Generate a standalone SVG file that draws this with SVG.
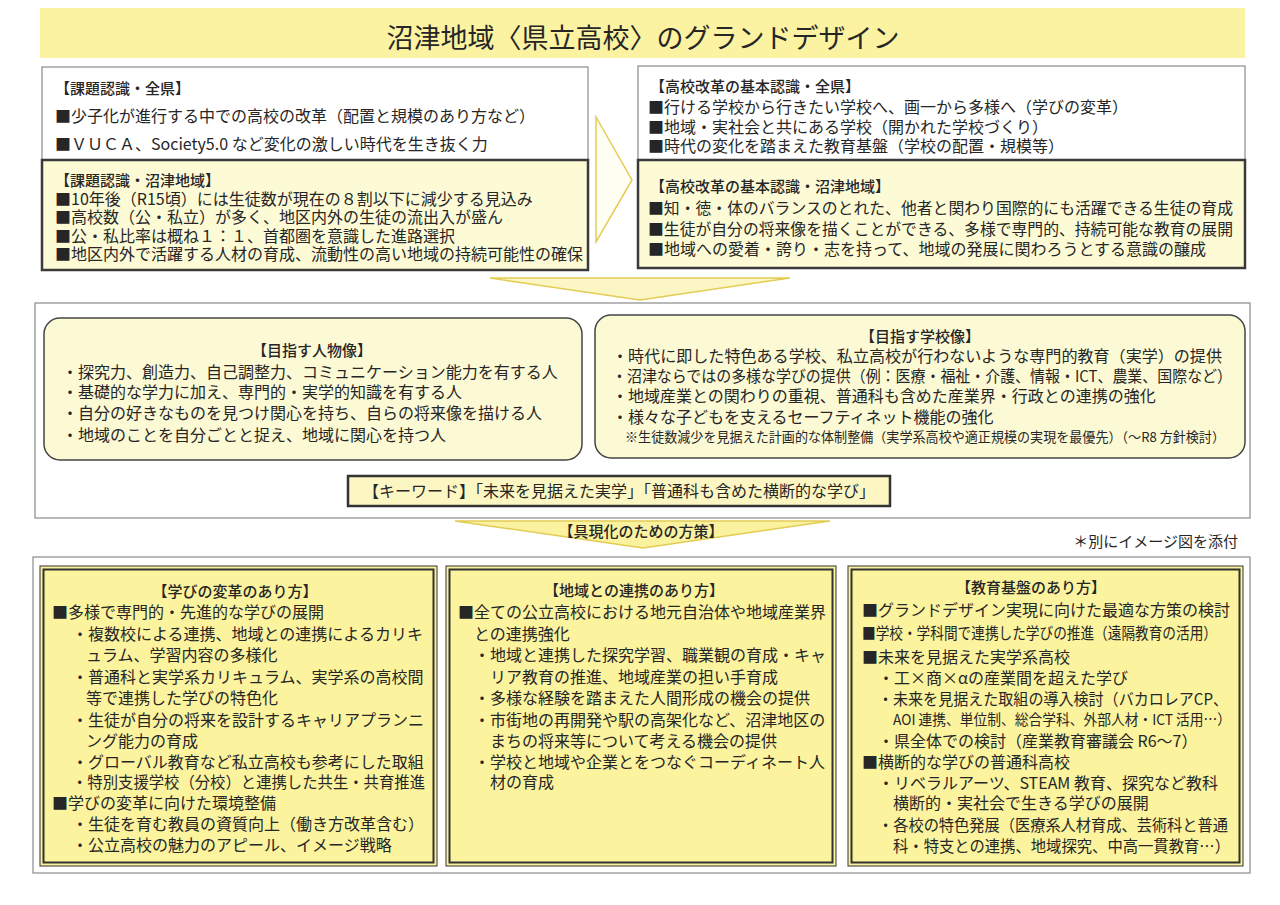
<svg xmlns="http://www.w3.org/2000/svg" width="1280" height="905" viewBox="0 0 1280 905">
<style>
text{font-family:"Noto Sans CJK JP","Noto Sans",sans-serif;fill:#262626;}
.f16{font-size:16px}
.f15{font-size:15px}
.f14{font-size:13.5px}
.h{font-weight:500}
.m{text-anchor:middle}
.wbox{fill:#fff;stroke:#8a8a8a;stroke-width:1.2}
.ybox{fill:#fdfbd6;stroke:#3a3a3a;stroke-width:2.5}
.rbox{fill:#fcf9d5;stroke:#444;stroke-width:1.5}
.dbo{fill:#fbf39e;stroke:#333;stroke-width:1}
.dbi{fill:none;stroke:#333;stroke-width:2}
.arr{fill:#fcf6c4;stroke:#e3cc55;stroke-width:1.5}
</style>
<rect width="1280" height="905" fill="#fff"/>
<g id="title">
<rect x="40" y="8" width="1205" height="50" fill="#fbf3a2"/>
<text x="643" y="48" class="m" style="font-size:27px">沼津地域〈県立高校〉のグランドデザイン</text>
</g>
<g id="connectors">
<polygon class="arr" points="596,117 632,180 596,242" style="fill:#fffef2"/>
<polygon class="arr" points="490,278 790,278 640,300"/>
<polygon class="arr" points="397,457 437,457 417,477"/>
<polygon class="arr" points="775,456 815,456 795,475"/>
<polygon class="arr" points="455,521 830,521 643,548" style="fill:#fbf2a0"/>
<text x="641" y="537" class="f15 h m">【具現化のための方策】</text>
</g>
<g id="kadai-zenken">
<rect class="wbox" x="42" y="67" width="546" height="93"/>
<text x="55" y="94" class="f15 h">【課題認識・全県】</text>
<text x="55" y="122" class="f16">■少子化が進行する中での高校の改革（配置と規模のあり方など）</text>
<text x="55" y="150" class="f16">■ＶＵＣＡ、Society5.0 など変化の激しい時代を生き抜く力</text>
</g>
<g id="kadai-numazu">
<rect class="ybox" x="42" y="160" width="546" height="110"/>
<text x="55" y="186" class="f15 h">【課題認識・沼津地域】</text>
<text x="55" y="205" class="f16">■10年後（R15頃）には生徒数が現在の８割以下に減少する見込み</text>
<text x="55" y="223" class="f16">■高校数（公・私立）が多く、地区内外の生徒の流出入が盛ん</text>
<text x="55" y="242" class="f16">■公・私比率は概ね１：１、首都圏を意識した進路選択</text>
<text x="55" y="260" class="f16">■地区内外で活躍する人材の育成、流動性の高い地域の持続可能性の確保</text>
</g>
<g id="kihon-zenken">
<rect class="wbox" x="638" y="66" width="607" height="94"/>
<text x="650" y="92" class="f15 h">【高校改革の基本認識・全県】</text>
<text x="648" y="113" class="f16">■行ける学校から行きたい学校へ、画一から多様へ（学びの変革）</text>
<text x="648" y="133" class="f16">■地域・実社会と共にある学校（開かれた学校づくり）</text>
<text x="648" y="152" class="f16">■時代の変化を踏まえた教育基盤（学校の配置・規模等）</text>
</g>
<g id="kihon-numazu">
<rect class="ybox" x="638" y="160" width="607" height="108"/>
<text x="650" y="192" class="f15 h">【高校改革の基本認識・沼津地域】</text>
<text x="648" y="214" class="f16" textLength="585" lengthAdjust="spacingAndGlyphs">■知・徳・体のバランスのとれた、他者と関わり国際的にも活躍できる生徒の育成</text>
<text x="648" y="235" class="f16" textLength="585" lengthAdjust="spacingAndGlyphs">■生徒が自分の将来像を描くことができる、多様で専門的、持続可能な教育の展開</text>
<text x="648" y="255" class="f16">■地域への愛着・誇り・志を持って、地域の発展に関わろうとする意識の醸成</text>
</g>
<g id="middle-frame">
<rect class="wbox" x="35" y="303" width="1215" height="215"/>
</g>
<g id="jinbutsu">
<rect class="rbox" x="44" y="318" width="538" height="142" rx="16"/>
<text x="312" y="356" class="f15 h m">【目指す人物像】</text>
<text x="62" y="378" class="f16">・探究力、創造力、自己調整力、コミュニケーション能力を有する人</text>
<text x="62" y="398" class="f16">・基礎的な学力に加え、専門的・実学的知識を有する人</text>
<text x="62" y="419" class="f16">・自分の好きなものを見つけ関心を持ち、自らの将来像を描ける人</text>
<text x="62" y="441" class="f16">・地域のことを自分ごとと捉え、地域に関心を持つ人</text>
</g>
<g id="gakkou">
<rect class="rbox" x="595" y="315" width="650" height="143" rx="16"/>
<text x="920" y="342" class="f15 h m">【目指す学校像】</text>
<text x="612" y="362" class="f16" textLength="610" lengthAdjust="spacingAndGlyphs">・時代に即した特色ある学校、私立高校が行わないような専門的教育（実学）の提供</text>
<text x="612" y="382" class="f16" textLength="620" lengthAdjust="spacingAndGlyphs">・沼津ならではの多様な学びの提供（例：医療・福祉・介護、情報・ICT、農業、国際など）</text>
<text x="612" y="402" class="f16">・地域産業との関わりの重視、普通科も含めた産業界・行政との連携の強化</text>
<text x="612" y="423" class="f16">・様々な子どもを支えるセーフティネット機能の強化</text>
<text x="625" y="442" class="f14" textLength="600" lengthAdjust="spacingAndGlyphs">※生徒数減少を見据えた計画的な体制整備（実学系高校や適正規模の実現を最優先）（～R8 方針検討）</text>
</g>
<g id="keyword">
<rect x="348" y="476" width="542" height="30" fill="#fcf6c2" stroke="#333" stroke-width="2.5"/>
<text x="619" y="497" class="f16 m">【キーワード】「未来を見据えた実学」「普通科も含めた横断的な学び」</text>
</g>
<g id="note">
<text x="1238" y="547" class="f15" text-anchor="end">＊別にイメージ図を添付</text>
</g>
<g id="bottom-frame">
<rect class="wbox" x="33" y="557" width="1217" height="316"/>
</g>
<g id="manabi">
<rect class="dbo" x="40" y="566" width="397" height="300"/>
<rect class="dbi" x="43.5" y="569.5" width="390" height="293"/>
<text x="235" y="597" class="f15 h m">【学びの変革のあり方】</text>
<text x="52" y="618" class="f16">■多様で専門的・先進的な学びの展開</text>
<text x="72" y="640" class="f16">・複数校による連携、地域との連携によるカリキ</text>
<text x="86" y="661" class="f16">ュラム、学習内容の多様化</text>
<text x="72" y="683" class="f16">・普通科と実学系カリキュラム、実学系の高校間</text>
<text x="86" y="704" class="f16">等で連携した学びの特色化</text>
<text x="72" y="726" class="f16">・生徒が自分の将来を設計するキャリアプランニ</text>
<text x="86" y="747" class="f16">ング能力の育成</text>
<text x="72" y="768" class="f16">・グローバル教育など私立高校も参考にした取組</text>
<text x="72" y="788" class="f16" textLength="353" lengthAdjust="spacingAndGlyphs">・特別支援学校（分校）と連携した共生・共育推進</text>
<text x="52" y="809" class="f16">■学びの変革に向けた環境整備</text>
<text x="72" y="830" class="f16">・生徒を育む教員の資質向上（働き方改革含む）</text>
<text x="72" y="851" class="f16">・公立高校の魅力のアピール、イメージ戦略</text>
</g>
<g id="chiiki">
<rect class="dbo" x="446" y="566" width="390" height="300"/>
<rect class="dbi" x="449.5" y="569.5" width="383" height="293"/>
<text x="634" y="596" class="f15 h m">【地域との連携のあり方】</text>
<text x="458" y="618" class="f16">■全ての公立高校における地元自治体や地域産業界</text>
<text x="474" y="640" class="f16">との連携強化</text>
<text x="474" y="661" class="f16">・地域と連携した探究学習、職業観の育成・キャ</text>
<text x="490" y="683" class="f16">リア教育の推進、地域産業の担い手育成</text>
<text x="474" y="704" class="f16">・多様な経験を踏まえた人間形成の機会の提供</text>
<text x="474" y="726" class="f16">・市街地の再開発や駅の高架化など、沼津地区の</text>
<text x="490" y="747" class="f16">まちの将来等について考える機会の提供</text>
<text x="474" y="768" class="f16">・学校と地域や企業とをつなぐコーディネート人</text>
<text x="490" y="788" class="f16">材の育成</text>
</g>
<g id="kiban">
<rect class="dbo" x="848" y="566" width="395" height="300"/>
<rect class="dbi" x="851.5" y="569.5" width="388" height="293"/>
<text x="1031" y="593" class="f15 h m">【教育基盤のあり方】</text>
<text x="862" y="616" class="f16">■グランドデザイン実現に向けた最適な方策の検討</text>
<text x="862" y="639" class="f16" textLength="355" lengthAdjust="spacingAndGlyphs">■学校・学科間で連携した学びの推進（遠隔教育の活用）</text>
<text x="862" y="663" class="f16">■未来を見据えた実学系高校</text>
<text x="878" y="684" class="f16">・工×商×αの産業間を超えた学び</text>
<text x="878" y="705" class="f16" textLength="350" lengthAdjust="spacingAndGlyphs">・未来を見据えた取組の導入検討（バカロレアCP、</text>
<text x="893" y="725" style="font-size:14.5px" textLength="338" lengthAdjust="spacingAndGlyphs">AOI 連携、単位制、総合学科、外部人材・ICT 活用…）</text>
<text x="878" y="747" class="f16">・県全体での検討（産業教育審議会 R6～7）</text>
<text x="862" y="768" class="f16">■横断的な学びの普通科高校</text>
<text x="878" y="789" class="f16">・リベラルアーツ、STEAM 教育、探究など教科</text>
<text x="893" y="809" class="f16">横断的・実社会で生きる学びの展開</text>
<text x="878" y="831" class="f16" textLength="350" lengthAdjust="spacingAndGlyphs">・各校の特色発展（医療系人材育成、芸術科と普通</text>
<text x="893" y="852" class="f16" textLength="337" lengthAdjust="spacingAndGlyphs">科・特支との連携、地域探究、中高一貫教育…）</text>
</g>
</svg>
